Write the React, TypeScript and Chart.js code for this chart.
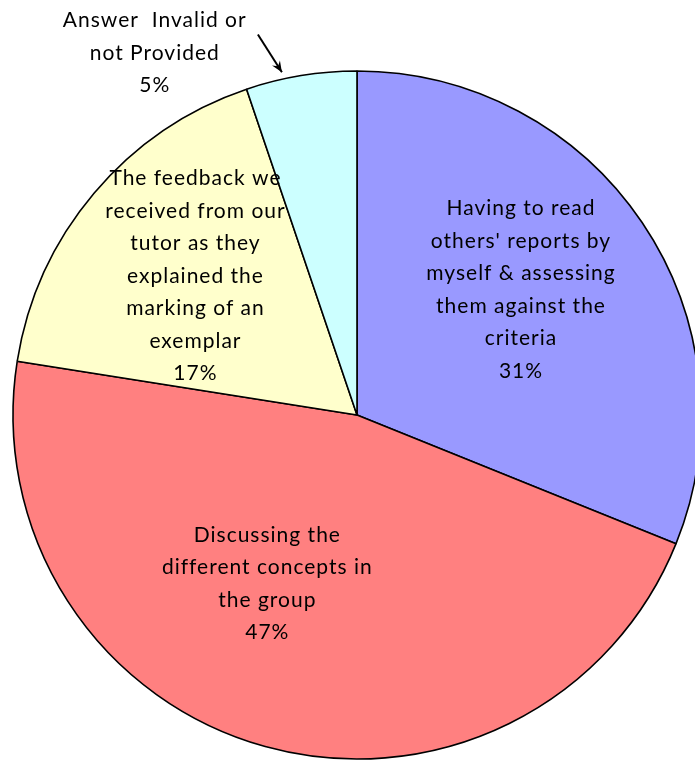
import React, { useEffect, useRef } from "react";
import { Chart, registerables } from "chart.js";

Chart.register(...registerables);

const categories = [
  "Having to read others' reports by myself & assessing them against the criteria",
  "Discussing the different concepts in the group",
  "The feedback we received from our tutor as they explained the marking of an exemplar",
  "Answer Invalid or not Provided",
];
const values = [31.1, 46.4, 17.3, 5.2];
const percentLabels = ["31%", "47%", "17%", "5%"];
const labelLines = [
  ["Having to read", "others' reports by", "myself & assessing", "them against the", "criteria"],
  ["Discussing the", "different concepts in", "the group"],
  ["The feedback we", "received from our", "tutor as they", "explained the", "marking of an", "exemplar"],
  ["Answer  Invalid or", "not Provided"],
];
const colors = ["#9999FF", "#FF8080", "#FFFFCC", "#CCFFFF"];
// label placement: fraction along slice angle, fraction of radius
const labelAngleFrac = [0.47, 0.575, 0.51, -0.56];
const labelRadiusFrac = [0.6, 0.555, 0.62, 1.205];

const labelPlugin = {
  id: "sliceLabels",
  afterDraw(chart: any) {
    const ctx = chart.ctx;
    const meta = chart.getDatasetMeta(0);
    ctx.save();
    ctx.fillStyle = "#000";
    ctx.font = "21px Lato, 'Open Sans', sans-serif";
    (ctx as any).letterSpacing = "1px";
    ctx.textAlign = "center";
    ctx.textBaseline = "middle";
    const lh = 32.5;
    meta.data.forEach((arc: any, i: number) => {
      const p = arc.getProps(["x", "y", "startAngle", "endAngle", "outerRadius"], true);
      const a = p.startAngle + labelAngleFrac[i] * (p.endAngle - p.startAngle);
      const r = p.outerRadius * labelRadiusFrac[i];
      const cx = p.x + Math.cos(a) * r;
      const cy = p.y + Math.sin(a) * r;
      const lines = [...labelLines[i], percentLabels[i]];
      const top = cy - ((lines.length - 1) * lh) / 2;
      lines.forEach((t, k) => ctx.fillText(t, cx, top + k * lh));
      if (i === 3) {
        const a1 = p.startAngle + 0.22 * (p.endAngle - p.startAngle);
        const a2 = p.startAngle + 0.34 * (p.endAngle - p.startAngle);
        const r1 = p.outerRadius * 1.143;
        const r2 = p.outerRadius * 1.02;
        const x1 = p.x + Math.cos(a1) * r1;
        const y1 = p.y + Math.sin(a1) * r1;
        const x2 = p.x + Math.cos(a2) * r2;
        const y2 = p.y + Math.sin(a2) * r2;
        ctx.strokeStyle = "#000";
        ctx.lineWidth = 2;
        ctx.beginPath();
        ctx.moveTo(x1, y1);
        ctx.lineTo(x2, y2);
        ctx.stroke();
        const ang = Math.atan2(y2 - y1, x2 - x1);
        const hl = 12;
        ctx.beginPath();
        ctx.moveTo(x2, y2);
        ctx.lineTo(x2 - hl * Math.cos(ang - 0.4), y2 - hl * Math.sin(ang - 0.4));
        ctx.lineTo(x2 - hl * 0.6 * Math.cos(ang), y2 - hl * 0.6 * Math.sin(ang));
        ctx.lineTo(x2 - hl * Math.cos(ang + 0.4), y2 - hl * Math.sin(ang + 0.4));
        ctx.closePath();
        ctx.fillStyle = "#000";
        ctx.fill();
      }
    });
    ctx.restore();
  },
};

export default function App() {
  const ref = useRef<HTMLCanvasElement>(null);
  useEffect(() => {
    if (!ref.current) return;
    const chart = new Chart(ref.current, {
      type: "pie",
      data: {
        labels: categories,
        datasets: [
          {
            data: values,
            backgroundColor: colors,
            borderColor: "#000",
            borderWidth: 1.6,
            hoverOffset: 0,
          },
        ],
      },
      options: {
        responsive: false,
        animation: false,
        radius: 344,
        layout: { padding: 0 },
        plugins: {
          legend: { display: false },
          tooltip: { enabled: false },
        },
      },
      plugins: [labelPlugin],
    });
    return () => chart.destroy();
  }, []);
  return (
    <div
      style={{
        position: "fixed",
        left: 0,
        top: 0,
        width: 695,
        height: 760,
        overflow: "hidden",
        background: "#fff",
      }}
    >
      <canvas ref={ref} width={714} height={830} style={{ display: "block", width: 714, height: 830 }} />
    </div>
  );
}
